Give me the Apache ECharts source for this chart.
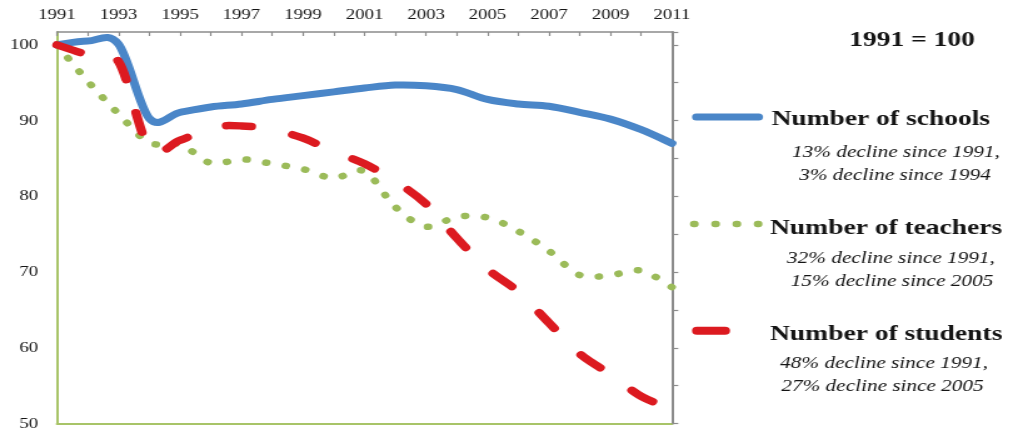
<!DOCTYPE html>
<html>
<head>
<meta charset="utf-8">
<script src="https://cdn.jsdelivr.net/npm/echarts@6/dist/echarts.min.js"></script>
<style>
  html, body { margin: 0; padding: 0; background: #fff; overflow: hidden; }
  #chart { width: 810px; height: 436px; transform-origin: 0 0; }
</style>
</head>
<body>
<div id="chart"></div>
<script>
// Index values, 1991 = 100
const years = ['1991','1992','1993','1994','1995','1996','1997','1998','1999','2000',
               '2001','2002','2003','2004','2005','2006','2007','2008','2009','2010','2011'];
const schools  = [100, 100.5, 100.1, 90.3, 91.1, 91.8, 92.2, 92.8, 93.3, 93.8,
                  94.3, 94.7, 94.6, 94.1, 92.8, 92.2, 91.9, 91.1, 90.2, 88.8, 87.0];
const teachers = [100, 95.2, 90.9, 87.1, 86.9, 84.4, 84.9, 84.3, 83.6, 82.4,
                  83.3, 78.6, 76.0, 77.3, 77.2, 75.4, 72.8, 69.6, 69.6, 70.2, 68.0];
const students = [100, 98.7, 97.8, 86.4, 87.4, 89.1, 89.3, 88.8, 87.7, 85.9,
                  84.3, 82.0, 79.0, 74.5, 70.4, 67.4, 63.3, 59.2, 56.5, 53.6, 52.0];

const seriesNames = ['Number of schools', 'Number of teachers', 'Number of students'];
const notes = [
  ['13% decline since 1991,', '3% decline since 1994'],
  ['32% decline since 1991,', '15% decline since 2005'],
  ['48% decline since 1991,', '27% decline since 2005']
];
const baseNote = '1991 = 100';

const BLUE = '#4a86c8', GREEN = '#9bbb59', RED = '#dc1a20';
const AXIS_GREEN = '#a8c468', AXIS_GRAY = '#8c8c8c', INK = '#141414';
const SERIF = '"Liberation Serif", "Times New Roman", serif';

// the whole drawing is widened horizontally
const el = document.getElementById('chart');
const STRETCH = 1013 / 810;
el.style.transform = 'scaleX(' + STRETCH + ')';
const X = v => v / STRETCH;   // page x -> drawing x

const chart = echarts.init(el, null, { renderer: 'canvas' });

// Catmull-Rom style cubic Bezier through every point (spreadsheet-like smoothing)
function smoothPath(pts) {
  let d = 'M' + pts[0][0] + ' ' + pts[0][1];
  const n = pts.length;
  for (let i = 0; i < n - 1; i++) {
    const p0 = pts[Math.max(i - 1, 0)], p1 = pts[i], p2 = pts[i + 1], p3 = pts[Math.min(i + 2, n - 1)];
    const c1x = p1[0] + (p2[0] - p0[0]) / 6, c1y = p1[1] + (p2[1] - p0[1]) / 6;
    const c2x = p2[0] - (p3[0] - p1[0]) / 6, c2y = p2[1] - (p3[1] - p1[1]) / 6;
    d += ' C' + c1x + ' ' + c1y + ' ' + c2x + ' ' + c2y + ' ' + p2[0] + ' ' + p2[1];
  }
  return d;
}

// one continuous smoothed stroke per series, placed through the axes
function curveSeries(name, values, style) {
  return {
    type: 'custom', name: name, xAxisIndex: 0, yAxisIndex: 0,
    data: values.map((v, i) => [i, v]),
    encode: { x: 0, y: 1 },
    clip: false,
    renderItem: function (params, api) {
      if (params.dataIndex !== 0) return null;
      const pts = values.map((v, i) => api.coord([i, v]));
      return {
        type: 'path', silent: true,
        shape: { pathData: smoothPath(pts) },
        style: Object.assign({ fill: 'none', lineCap: 'round', lineJoin: 'round' }, style)
      };
    }
  };
}

function titleText(txt, x, y) {
  return { type: 'text', x: X(x), y: y, style: {
    text: txt, fill: INK, font: 'bold 22px ' + SERIF,
    textAlign: 'left', textVerticalAlign: 'middle' } };
}
function noteText(txt, cx, y) {
  return { type: 'text', x: X(cx), y: y, style: {
    text: txt, fill: INK, font: 'italic 17px ' + SERIF,
    textAlign: 'center', textVerticalAlign: 'middle' } };
}

const option = {
  backgroundColor: '#fff',
  animation: false,
  grid: { left: X(57), right: 810 - X(672), top: 32, bottom: 12.4, containLabel: false },
  xAxis: [
    {
      type: 'category', data: years, position: 'top', boundaryGap: false,
      axisLine: { lineStyle: { color: AXIS_GRAY, width: 1.5 } },
      axisTick: { show: true, inside: true, length: 4, interval: 0,
                  lineStyle: { color: AXIS_GRAY, width: 1.2 } },
      axisLabel: { interval: 1, color: INK, fontFamily: SERIF, fontSize: 15, margin: 9 },
      splitLine: { show: false }
    },
    {
      type: 'category', data: years, position: 'bottom', boundaryGap: false,
      axisLine: { lineStyle: { color: AXIS_GREEN, width: 2 } },
      axisTick: { show: false }, axisLabel: { show: false }, splitLine: { show: false }
    }
  ],
  yAxis: [
    {
      type: 'value', min: 50, max: 101.7, interval: 10, position: 'left',
      axisLine: { show: true, lineStyle: { color: AXIS_GREEN, width: 2 } },
      axisTick: { show: false },
      axisLabel: { color: INK, fontFamily: SERIF, fontSize: 15, margin: 15,
                   showMaxLabel: false, padding: [8, 0, 0, 0] },
      splitLine: { show: false }
    },
    {
      type: 'value', min: 50, max: 101.7, interval: 5, position: 'right',
      axisLine: { show: true, lineStyle: { color: AXIS_GRAY, width: 2 } },
      axisTick: { show: true, inside: false, length: 5, lineStyle: { color: AXIS_GRAY, width: 1.2 } },
      axisLabel: { show: false },
      splitLine: { show: false }
    }
  ],
  series: [
    curveSeries(seriesNames[0], schools,  { stroke: BLUE,  lineWidth: 7 }),
    curveSeries(seriesNames[1], teachers, { stroke: GREEN, lineWidth: 6.5, lineDash: [0.5, 15.5] }),
    curveSeries(seriesNames[2], students, { stroke: RED,   lineWidth: 7.5, lineDash: [20, 34] })
  ],
  graphic: { elements: [
    { type: 'text', x: X(912), y: 40, style: {
        text: baseNote, fill: INK, font: 'bold 22px ' + SERIF,
        textAlign: 'center', textVerticalAlign: 'middle' } },

    { type: 'line', shape: { x1: X(692) + 3.5, y1: 117, x2: X(763) - 3.5, y2: 117 },
      style: { stroke: BLUE, lineWidth: 7, lineCap: 'round' } },
    titleText(seriesNames[0], 771.5, 119),
    noteText(notes[0][0], 896, 152.5),
    noteText(notes[0][1], 895, 176),

    { type: 'line', shape: { x1: X(694), y1: 224, x2: X(760), y2: 224 },
      style: { stroke: GREEN, lineWidth: 6.5, lineCap: 'round', lineDash: [0.5, 16.5] } },
    titleText(seriesNames[1], 770, 228),
    noteText(notes[1][0], 891, 258.3),
    noteText(notes[1][1], 892, 281.7),

    { type: 'line', shape: { x1: X(692) + 4, y1: 330.7, x2: X(730) - 4, y2: 330.7 },
      style: { stroke: RED, lineWidth: 8, lineCap: 'round' } },
    titleText(seriesNames[2], 770, 334.7),
    noteText(notes[2][0], 884, 363.3),
    noteText(notes[2][1], 882.5, 386.7)
  ] }
};

chart.setOption(option);
</script>
</body>
</html>
